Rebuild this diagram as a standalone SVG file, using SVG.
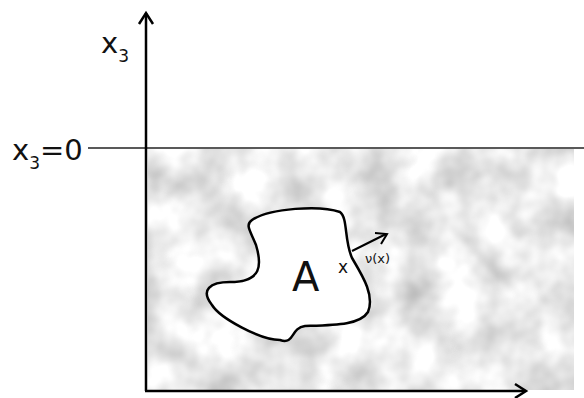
<svg xmlns="http://www.w3.org/2000/svg" width="584" height="398" viewBox="0 0 584 398">
<style>
.lbl{font-family:"DejaVu Sans",sans-serif;fill:#111}
.ax{stroke:#000;stroke-width:2.5;fill:none}
</style>
<defs>
<filter id="cloud" x="0" y="0" width="1" height="1" filterUnits="objectBoundingBox" color-interpolation-filters="sRGB">
<feTurbulence type="fractalNoise" baseFrequency="0.025" numOctaves="3" seed="4"/>
<feColorMatrix type="matrix" values="0.4 0 0 0 0.72  0.4 0 0 0 0.72  0.4 0 0 0 0.72  0 0 0 0 1"/>
<feComposite in2="SourceGraphic" operator="in"/>
</filter>
</defs>
<g id="region">
<rect x="148" y="149" width="426" height="241" fill="#ddd" filter="url(#cloud)"/>
</g>
<g id="connectors">
<line x1="88" y1="148" x2="584" y2="148" stroke="#222" stroke-width="1.5"/>
<line class="ax" x1="146" y1="13" x2="146" y2="391"/>
<polyline class="ax" points="139,24 146,13 153,24"/>
<line class="ax" x1="145" y1="391" x2="525" y2="391"/>
<polyline class="ax" points="515,384 526,391 515,398"/>
<line x1="352" y1="251" x2="386" y2="234" stroke="#000" stroke-width="2"/>
<polyline points="375,233 387,234 381,244" stroke="#000" stroke-width="2" fill="none"/>
</g>
<g id="A">
<path d="M 252,220 C 270,208 320,205 340,212 C 348,218 344,240 352,258 C 362,275 375,295 368,312 C 360,325 335,325 305,326 C 290,328 295,345 280,340 C 260,340 220,318 212,305 C 200,290 210,282 230,282 C 262,282 262,265 256,245 C 250,230 245,225 252,220 Z" fill="#fff" stroke="#000" stroke-width="2.5"/>
<text class="lbl" x="292" y="291" font-size="40">A</text>
<text class="lbl" x="338" y="273" font-size="17">x</text>
<text class="lbl" x="365" y="263" font-size="13">ν(x)</text>
</g>
<g id="labels">
<text class="lbl" x="101" y="53" font-size="29">x<tspan font-size="17" dy="9">3</tspan></text>
<text class="lbl" x="12" y="160" font-size="29">x<tspan font-size="17" dy="9">3</tspan><tspan dy="-9">=0</tspan></text>
</g>
</svg>
